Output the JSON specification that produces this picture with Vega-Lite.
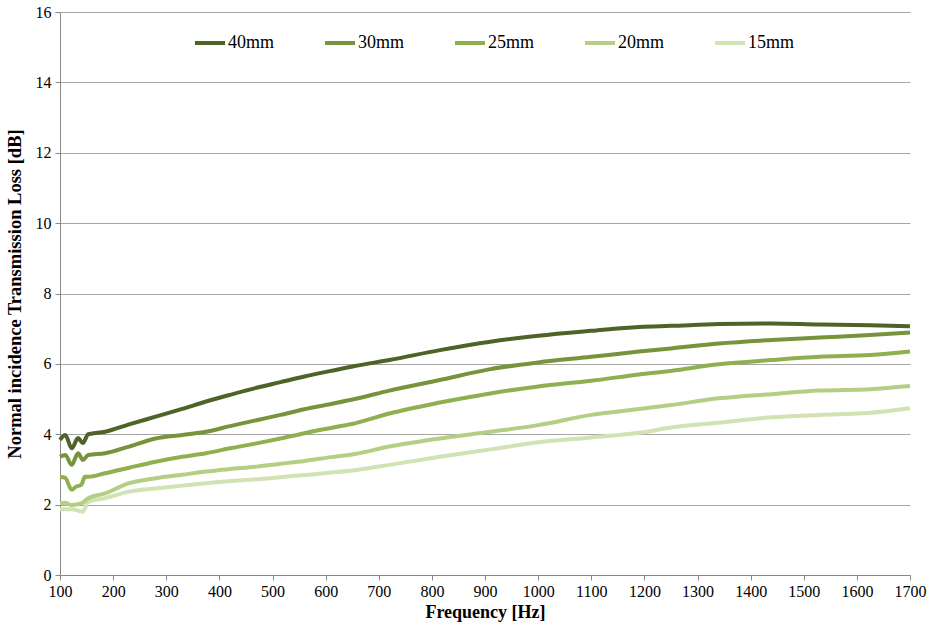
{
  "$schema": "https://vega.github.io/schema/vega-lite/v6.json",
  "width": 850,
  "height": 563,
  "autosize": "none",
  "padding": {"left": 60, "top": 12, "right": 22, "bottom": 56},
  "background": "white",
  "config": {
    "view": {"stroke": null},
    "font": "Liberation Serif",
    "axis": {"labelFont": "Liberation Serif", "titleFont": "Liberation Serif"},
    "legend": {"labelFont": "Liberation Serif", "titleFont": "Liberation Serif"}
  },
  "datasets": {
    "d40": [
      {"f":100,"tl":3.84},{"f":110,"tl":3.98},{"f":122,"tl":3.6},{"f":134,"tl":3.89},{"f":143,"tl":3.75},{"f":153,"tl":4.0},{"f":185,"tl":4.07},{"f":230,"tl":4.28},{"f":280,"tl":4.5},{"f":330,"tl":4.72},{"f":375,"tl":4.93},{"f":420,"tl":5.12},{"f":470,"tl":5.32},{"f":515,"tl":5.48},{"f":560,"tl":5.64},{"f":610,"tl":5.8},{"f":655,"tl":5.94},{"f":720,"tl":6.11},{"f":815,"tl":6.39},{"f":910,"tl":6.63},{"f":1000,"tl":6.8},{"f":1100,"tl":6.94},{"f":1190,"tl":7.05},{"f":1250,"tl":7.08},{"f":1340,"tl":7.13},{"f":1440,"tl":7.15},{"f":1530,"tl":7.12},{"f":1625,"tl":7.1},{"f":1700,"tl":7.07}
    ],
    "d30": [
      {"f":100,"tl":3.36},{"f":110,"tl":3.41},{"f":122,"tl":3.13},{"f":134,"tl":3.46},{"f":143,"tl":3.27},{"f":153,"tl":3.41},{"f":185,"tl":3.46},{"f":230,"tl":3.65},{"f":280,"tl":3.88},{"f":330,"tl":3.98},{"f":375,"tl":4.07},{"f":420,"tl":4.23},{"f":470,"tl":4.4},{"f":515,"tl":4.55},{"f":560,"tl":4.71},{"f":610,"tl":4.86},{"f":655,"tl":5.0},{"f":720,"tl":5.24},{"f":815,"tl":5.54},{"f":910,"tl":5.85},{"f":1000,"tl":6.04},{"f":1100,"tl":6.2},{"f":1190,"tl":6.35},{"f":1250,"tl":6.44},{"f":1340,"tl":6.58},{"f":1440,"tl":6.68},{"f":1530,"tl":6.75},{"f":1625,"tl":6.82},{"f":1700,"tl":6.89}
    ],
    "d25": [
      {"f":100,"tl":2.79},{"f":110,"tl":2.76},{"f":122,"tl":2.42},{"f":130,"tl":2.51},{"f":140,"tl":2.56},{"f":147,"tl":2.79},{"f":153,"tl":2.79},{"f":185,"tl":2.89},{"f":230,"tl":3.05},{"f":280,"tl":3.22},{"f":330,"tl":3.36},{"f":375,"tl":3.46},{"f":420,"tl":3.6},{"f":470,"tl":3.74},{"f":515,"tl":3.88},{"f":560,"tl":4.03},{"f":610,"tl":4.18},{"f":655,"tl":4.31},{"f":720,"tl":4.59},{"f":815,"tl":4.9},{"f":910,"tl":5.16},{"f":1000,"tl":5.36},{"f":1100,"tl":5.52},{"f":1190,"tl":5.7},{"f":1250,"tl":5.8},{"f":1340,"tl":5.99},{"f":1440,"tl":6.11},{"f":1530,"tl":6.2},{"f":1625,"tl":6.25},{"f":1700,"tl":6.35}
    ],
    "d20": [
      {"f":100,"tl":2.04},{"f":110,"tl":2.05},{"f":122,"tl":1.99},{"f":141,"tl":2.04},{"f":153,"tl":2.18},{"f":185,"tl":2.32},{"f":230,"tl":2.61},{"f":280,"tl":2.75},{"f":330,"tl":2.85},{"f":375,"tl":2.94},{"f":420,"tl":3.01},{"f":470,"tl":3.08},{"f":515,"tl":3.16},{"f":560,"tl":3.24},{"f":610,"tl":3.35},{"f":655,"tl":3.44},{"f":720,"tl":3.65},{"f":815,"tl":3.88},{"f":910,"tl":4.07},{"f":1000,"tl":4.26},{"f":1100,"tl":4.55},{"f":1190,"tl":4.72},{"f":1250,"tl":4.83},{"f":1340,"tl":5.02},{"f":1440,"tl":5.14},{"f":1530,"tl":5.24},{"f":1625,"tl":5.28},{"f":1700,"tl":5.37}
    ],
    "d15": [
      {"f":100,"tl":1.87},{"f":122,"tl":1.87},{"f":143,"tl":1.8},{"f":153,"tl":2.08},{"f":185,"tl":2.18},{"f":230,"tl":2.37},{"f":280,"tl":2.46},{"f":330,"tl":2.54},{"f":375,"tl":2.61},{"f":420,"tl":2.67},{"f":470,"tl":2.72},{"f":515,"tl":2.78},{"f":560,"tl":2.84},{"f":610,"tl":2.91},{"f":655,"tl":2.98},{"f":720,"tl":3.13},{"f":815,"tl":3.36},{"f":910,"tl":3.57},{"f":1000,"tl":3.77},{"f":1100,"tl":3.91},{"f":1190,"tl":4.04},{"f":1250,"tl":4.19},{"f":1340,"tl":4.33},{"f":1440,"tl":4.48},{"f":1530,"tl":4.55},{"f":1625,"tl":4.61},{"f":1700,"tl":4.74}
    ]
  },
  "layer": [
    {"data": {"name": "d15"}, "mark": {"type": "line", "strokeWidth": 4, "interpolate": "monotone"},
     "encoding": {
       "x": {"field": "f", "type": "quantitative", "scale": {"domain": [100, 1700], "nice": false},
             "axis": {"title": "Frequency [Hz]", "values": [100,200,300,400,500,600,700,800,900,1000,1100,1200,1300,1400,1500,1600,1700],
                      "format": "d",
                      "grid": false, "domainColor": "#888888", "tickColor": "#888888", "tickSize": 5,
                      "labelFont": "Liberation Serif", "labelFontSize": 16, "labelColor": "#000000", "labelPadding": 3, "labelFlush": false,
                      "titleFont": "Liberation Serif", "titleFontSize": 18, "titleFontWeight": "bold", "titleColor": "#000000", "titlePadding": 4}},
       "y": {"field": "tl", "type": "quantitative", "scale": {"domain": [0, 16], "nice": false},
             "axis": {"title": "Normal incidence Transmission Loss [dB]", "values": [0,1,2,3,4,5,6,7,8,9,10,11,12,13,14,15,16],
                      "labelExpr": "datum.value % 2 ? '' : datum.label",
                      "grid": true, "gridColor": "#a6a6a6", "gridWidth": 1,
                      "gridOpacity": {"condition": {"test": "datum.value % 2 === 1 || datum.value === 0", "value": 0}, "value": 1},
                      "domainColor": "#888888", "tickColor": "#888888", "tickSize": 5,
                      "labelFont": "Liberation Serif", "labelFontSize": 16, "labelColor": "#000000", "labelPadding": 4,
                      "titleFont": "Liberation Serif", "titleFontSize": 18.5, "titleFontWeight": "bold", "titleColor": "#000000", "titlePadding": 11}},
       "color": {"datum": "15mm", "type": "nominal",
                 "scale": {"domain": ["40mm","30mm","25mm","20mm","15mm"], "range": ["#4f6228","#77933c","#8fb04e","#b5ce86","#d1e2b3"]},
                 "legend": {"title": null, "orient": "none", "legendX": 133, "legendY": 14, "direction": "horizontal", "columns": 5,
                            "symbolType": "stroke", "symbolSize": 900, "symbolStrokeWidth": 4, "columnPadding": 42,
                            "labelFont": "Liberation Serif", "labelFontSize": 18, "labelColor": "#000000", "labelOffset": 1}}
     }},
    {"data": {"name": "d20"}, "mark": {"type": "line", "strokeWidth": 4, "interpolate": "monotone"},
     "encoding": {"x": {"field": "f", "type": "quantitative"}, "y": {"field": "tl", "type": "quantitative"}, "color": {"datum": "20mm", "type": "nominal"}}},
    {"data": {"name": "d25"}, "mark": {"type": "line", "strokeWidth": 4, "interpolate": "monotone"},
     "encoding": {"x": {"field": "f", "type": "quantitative"}, "y": {"field": "tl", "type": "quantitative"}, "color": {"datum": "25mm", "type": "nominal"}}},
    {"data": {"name": "d30"}, "mark": {"type": "line", "strokeWidth": 4, "interpolate": "monotone"},
     "encoding": {"x": {"field": "f", "type": "quantitative"}, "y": {"field": "tl", "type": "quantitative"}, "color": {"datum": "30mm", "type": "nominal"}}},
    {"data": {"name": "d40"}, "mark": {"type": "line", "strokeWidth": 4, "interpolate": "monotone"},
     "encoding": {"x": {"field": "f", "type": "quantitative"}, "y": {"field": "tl", "type": "quantitative"}, "color": {"datum": "40mm", "type": "nominal"}}}
  ]
}
